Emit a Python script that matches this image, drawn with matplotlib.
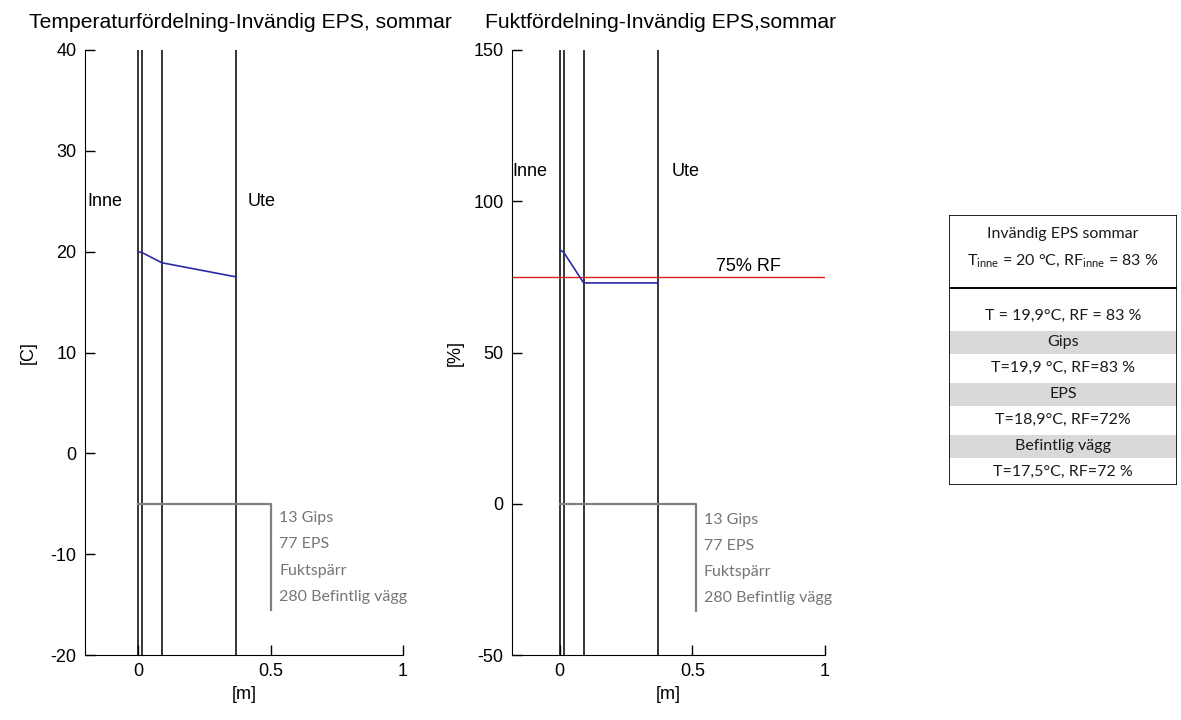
import matplotlib
matplotlib.use("Agg")
import matplotlib.pyplot as plt
from matplotlib.patches import Rectangle

plt.rcParams["font.family"] = "Liberation Sans"
plt.rcParams["mathtext.default"] = "regular"
plt.rcParams["axes.unicode_minus"] = False

# wall layers (m) and profiles
layer_x = [0, 0.016, 0.09, 0.37]
temp_x = [0, 0.016, 0.09, 0.37]
temp_c = [20, 19.9, 18.9, 17.5]
rf_x = [0, 0.016, 0.09, 0.37]
rf_pct = [84, 83, 73, 73]
rf_limit = 75

layer_labels = ["13 Gips", "77 EPS", "Fuktspärr", "280 Befintlig vägg"]

table_header = ["Invändig EPS sommar",
                r"T$_{inne}$ = 20 °C, RF$_{inne}$ = 83 %"]
table_rows = ["T = 19,9°C, RF = 83 %", "Gips", "T=19,9 °C, RF=83 %", "EPS",
              "T=18,9°C, RF=72%", "Befintlig vägg", "T=17,5°C, RF=72 %"]
gray_rows = [1, 3, 5]

fig = plt.figure(figsize=(11.81, 7.2), dpi=100)
ax1 = fig.add_axes([85 / 1181, 65 / 720, 318 / 1181, 605 / 720])
ax2 = fig.add_axes([512 / 1181, 65 / 720, 313 / 1181, 605 / 720])


def style_axes(ax, ylim, yticks, xmin):
    ax.set_xlim(xmin, 1)
    ax.set_ylim(*ylim)
    ax.set_yticks(yticks)
    ax.set_xticks([0, 0.5, 1])
    ax.set_xticklabels(["0", "0.5", "1"])
    ax.spines["top"].set_visible(False)
    ax.spines["right"].set_visible(False)
    ax.tick_params(direction="in", length=7, width=1, labelsize=13, pad=6)
    ax.set_xlabel("[m]", fontsize=13, labelpad=4)


# temperature
style_axes(ax1, (-20, 40), [-20, -10, 0, 10, 20, 30, 40], -0.2)
for x in layer_x:
    ax1.axvline(x, color="black", lw=1.1)
ax1.plot(temp_x, temp_c, color="#2a2aa8", lw=1.2)
ax1.plot([0, 0.5, 0.5], [-5, -5, -15.5], color="#808080", lw=1.6)
for i, lab in enumerate(layer_labels):
    ax1.text(0.533, -6.4 - 2.63 * i, lab, fontsize=11.5, family="Lato",
             color="#767676", va="center")
ax1.text(-0.19, 25, "Inne", fontsize=13, va="center")
ax1.text(0.415, 25, "Ute", fontsize=13, va="center")
ax1.set_ylabel("[C]", fontsize=13)
ax1.yaxis.set_label_coords(-0.151, 0.5)
ax1.text(0.49, 1.045, "Temperaturfördelning-Invändig EPS, sommar",
         transform=ax1.transAxes, ha="center", va="center", fontsize=15.2)

# moisture
style_axes(ax2, (-50, 150), [-50, 0, 50, 100, 150], -0.18)
for x in layer_x:
    ax2.axvline(x, color="black", lw=1.1)
ax2.axhline(rf_limit, color="#e02020", lw=1)
ax2.plot(rf_x, rf_pct, color="#2a2aa8", lw=1.2)
ax2.text(0.59, rf_limit + 0.5, "75% RF", fontsize=13, va="bottom")
ax2.plot([0, 0.512, 0.512], [0, 0, -35.3], color="#808080", lw=1.6)
for i, lab in enumerate(layer_labels):
    ax2.text(0.543, -5.4 - 8.6 * i, lab, fontsize=11.5, family="Lato",
             color="#767676", va="center")
ax2.text(-0.178, 110, "Inne", fontsize=13, va="center")
ax2.text(0.42, 110, "Ute", fontsize=13, va="center")
ax2.set_ylabel("[%]", fontsize=13)
ax2.yaxis.set_label_coords(-0.153, 0.5)
ax2.text(0.475, 1.045, "Fuktfördelning-Invändig EPS,sommar",
         transform=ax2.transAxes, ha="center", va="center", fontsize=15.2)

# info table on the right (pixel units inside its own axes)
tab = fig.add_axes([949 / 1181, 235 / 720, 228 / 1181, 270 / 720])
tab.set_xlim(0, 228)
tab.set_ylim(270, 0)
tab.axis("off")
row_y = [101, 127, 153, 179, 205, 231, 257]
for i in gray_rows:
    tab.add_patch(Rectangle((0, row_y[i] - 11.5), 228, 23, color="#d9d9d9", lw=0))
tab.add_patch(Rectangle((0, 0), 228, 73, fill=False, ec="black", lw=1.2))
tab.add_patch(Rectangle((0, 73), 228, 197, fill=False, ec="black", lw=1.2))
for y, t in zip([19, 46], table_header):
    tab.text(114, y, t, ha="center", va="center", fontsize=11.5, family="Lato",
             color="#1a1a1a")
for y, t in zip(row_y, table_rows):
    tab.text(114, y, t, ha="center", va="center", fontsize=11.5, family="Lato",
             color="#1a1a1a")

fig.savefig("out.png", dpi=100)
